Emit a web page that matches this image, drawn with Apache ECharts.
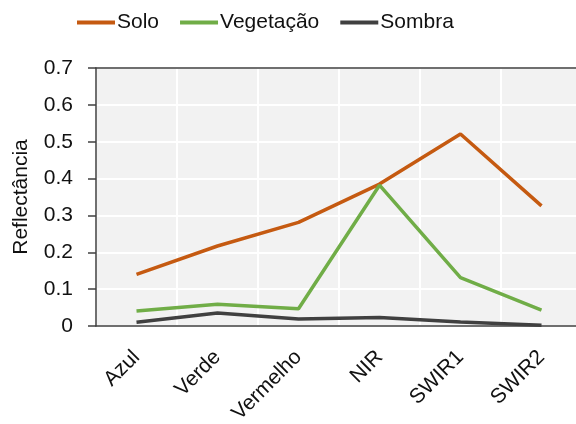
<!DOCTYPE html>
<html>
<head>
<meta charset="utf-8">
<script src="https://cdn.jsdelivr.net/npm/echarts@6/dist/echarts.min.js"></script>
<style>
  html, body { margin: 0; padding: 0; background: #fff; }
  #chart { width: 576px; height: 424px; }
</style>
</head>
<body>
<div id="chart"></div>
<script>
// bandas e valores de reflectância
var bandas = ['Azul', 'Verde', 'Vermelho', 'NIR', 'SWIR1', 'SWIR2'];
var solo = [0.140, 0.217, 0.281, 0.385, 0.521, 0.326];
var vegetacao = [0.041, 0.059, 0.047, 0.382, 0.131, 0.043];
var sombra = [0.010, 0.035, 0.019, 0.023, 0.011, 0.002];

var fonte = '"Liberation Sans", Arial, sans-serif';

var chart = echarts.init(document.getElementById('chart'));

var option = {
    animation: false,
    textStyle: { fontFamily: fonte },
    legend: {
        top: 12,
        left: 77,
        padding: 0,
        itemWidth: 38,
        itemHeight: 4,
        itemGap: 21,
        icon: 'rect',
        textStyle: { fontSize: 21, color: '#111', padding: [0, 0, 0, -3] },
        data: ['Solo', 'Vegetação', 'Sombra']
    },
    grid: {
        left: 96,
        top: 68,
        right: -6,
        bottom: 98,
        outerBoundsMode: 'none',
        containLabel: false,
        show: true,
        backgroundColor: '#F2F2F2',
        borderWidth: 0
    },
    xAxis: [{
        type: 'category',
        data: bandas,
        boundaryGap: true,
        axisLine: { lineStyle: { color: '#404040', width: 1.5 } },
        axisTick: { alignWithLabel: true, length: 7, lineStyle: { color: '#404040', width: 1.5 } },
        axisLabel: { rotate: 45, fontSize: 21, color: '#111', margin: 28 },
        splitLine: { show: true, lineStyle: { color: '#fff', width: 2 } }
    }, {
        type: 'category',
        position: 'top',
        data: bandas,
        axisLine: { lineStyle: { color: '#404040', width: 1.5 } },
        axisTick: { show: false },
        axisLabel: { show: false }
    }],
    yAxis: {
        type: 'value',
        min: 0,
        max: 0.7,
        interval: 0.1,
        name: 'Reflectância',
        nameLocation: 'middle',
        nameGap: 64,
        nameTextStyle: { fontSize: 21, color: '#111' },
        axisLine: { show: true, lineStyle: { color: '#404040', width: 1.5 } },
        axisTick: { show: true, length: 8, lineStyle: { color: '#404040', width: 1.5 } },
        axisLabel: {
            fontSize: 21, color: '#111', margin: 23,
            formatter: function (v) { return v === 0 ? '0' : v.toFixed(1); }
        },
        splitLine: { show: true, lineStyle: { color: '#fff', width: 2 } }
    },
    series: [
        { name: 'Solo', type: 'line', data: solo, showSymbol: false, symbol: 'none',
          lineStyle: { color: '#C55A11', width: 3.5 }, itemStyle: { color: '#C55A11' } },
        { name: 'Vegetação', type: 'line', data: vegetacao, showSymbol: false, symbol: 'none',
          lineStyle: { color: '#70AD47', width: 3.5 }, itemStyle: { color: '#70AD47' } },
        { name: 'Sombra', type: 'line', data: sombra, showSymbol: false, symbol: 'none',
          lineStyle: { color: '#404040', width: 3.5 }, itemStyle: { color: '#404040' } }
    ]
};

chart.setOption(option);
</script>
</body>
</html>
